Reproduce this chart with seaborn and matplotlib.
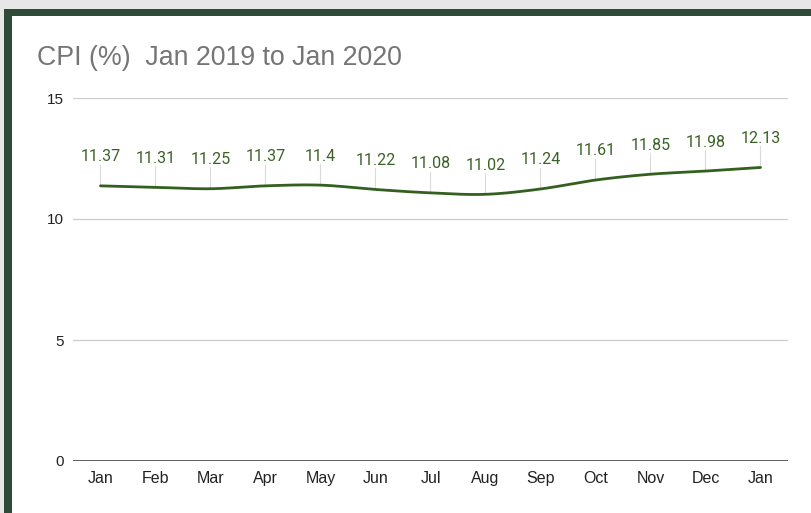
import numpy as np
import pandas as pd
import seaborn as sns
import matplotlib.pyplot as plt
from matplotlib.patches import Rectangle

# Datos de la serie
meses = ['Jan', 'Feb', 'Mar', 'Apr', 'May', 'Jun', 'Jul', 'Aug', 'Sep', 'Oct', 'Nov', 'Dec', 'Jan']
cpi = [11.37, 11.31, 11.25, 11.37, 11.4, 11.22, 11.08, 11.02, 11.24, 11.61, 11.85, 11.98, 12.13]
y_ticks = [0, 5, 10, 15]

verde_linea = '#34601f'
verde_texto = '#3b6226'

sns.set_theme(style='white')
plt.rcParams['font.family'] = ['Liberation Sans', 'DejaVu Sans']

# Curva suavizada (Catmull-Rom) para imitar la línea del original
def suavizar(x, y, n=20):
    x = np.asarray(x, float)
    y = np.asarray(y, float)
    px = np.concatenate([[2 * x[0] - x[1]], x, [2 * x[-1] - x[-2]]])
    py = np.concatenate([[2 * y[0] - y[1]], y, [2 * y[-1] - y[-2]]])
    xs, ys = [], []
    for i in range(1, len(px) - 2):
        t = np.linspace(0, 1, n, endpoint=False)
        for p, out in ((px, xs), (py, ys)):
            p0, p1, p2, p3 = p[i - 1], p[i], p[i + 1], p[i + 2]
            out.extend(0.5 * ((2 * p1) + (-p0 + p2) * t
                              + (2 * p0 - 5 * p1 + 4 * p2 - p3) * t ** 2
                              + (-p0 + 3 * p1 - 3 * p2 + p3) * t ** 3))
    xs.append(x[-1])
    ys.append(y[-1])
    return np.array(xs), np.array(ys)

df = pd.DataFrame({'pos': np.arange(len(meses)), 'cpi': cpi})
xs, ys = suavizar(df['pos'], df['cpi'])

fig = plt.figure(figsize=(8.12, 5.13), dpi=100)
fig.patch.set_facecolor('#e6e7e6')
W, H = 812, 513
# marco verde y fondo blanco
fig.patches.append(Rectangle((4 / W, 0), 1, 1 - 9 / H, transform=fig.transFigure,
                             facecolor='#2f4a39', edgecolor='none', zorder=-3))
fig.patches.append(Rectangle((12 / W, 0), 1, 1 - 16 / H, transform=fig.transFigure,
                             facecolor='white', edgecolor='none', zorder=-2))

ax = fig.add_axes([73 / W, 1 - 461 / H, (788 - 73) / W, (461 - 98) / H])
ax.set_facecolor('none')

sns.lineplot(x=xs, y=ys, ax=ax, color=verde_linea, linewidth=2.0, zorder=3)

# etiquetas de datos con líneas guía
for p, v in zip(df['pos'], df['cpi']):
    ax.plot([p, p], [v, v + 0.88], color='#dadada', linewidth=0.8, zorder=2)
    ax.text(p, v + 1.2, f'{v:g}', ha='center', va='center', fontsize=11.5,
            color=verde_texto, family=['Roboto', 'DejaVu Sans'], zorder=4)

ax.set_xlim(-0.5, len(meses) - 0.5)
ax.set_ylim(0, 15)
ax.set_yticks(y_ticks)
ax.set_yticklabels([str(t) for t in y_ticks])
ax.set_xticks(df['pos'])
ax.set_xticklabels(meses)
ax.tick_params(axis='both', length=0, labelsize=11, colors='#222222')
ax.tick_params(axis='x', labelsize=11.5, pad=7)
ax.tick_params(axis='y', pad=6.5)
for t in y_ticks[1:]:
    ax.axhline(t, color='#cccccc', linewidth=0.9, zorder=1)
ax.axhline(0, color='#333333', linewidth=1.1, zorder=2)
for s in ax.spines.values():
    s.set_visible(False)
ax.set_xlabel('')
ax.set_ylabel('')

fig.text(37 / W, 1 - 58 / H, 'CPI (%)  Jan 2019 to Jan 2020', fontsize=19.3,
         color='#757575', va='center', ha='left')

fig.savefig('out.png', dpi=100, facecolor=fig.get_facecolor())
